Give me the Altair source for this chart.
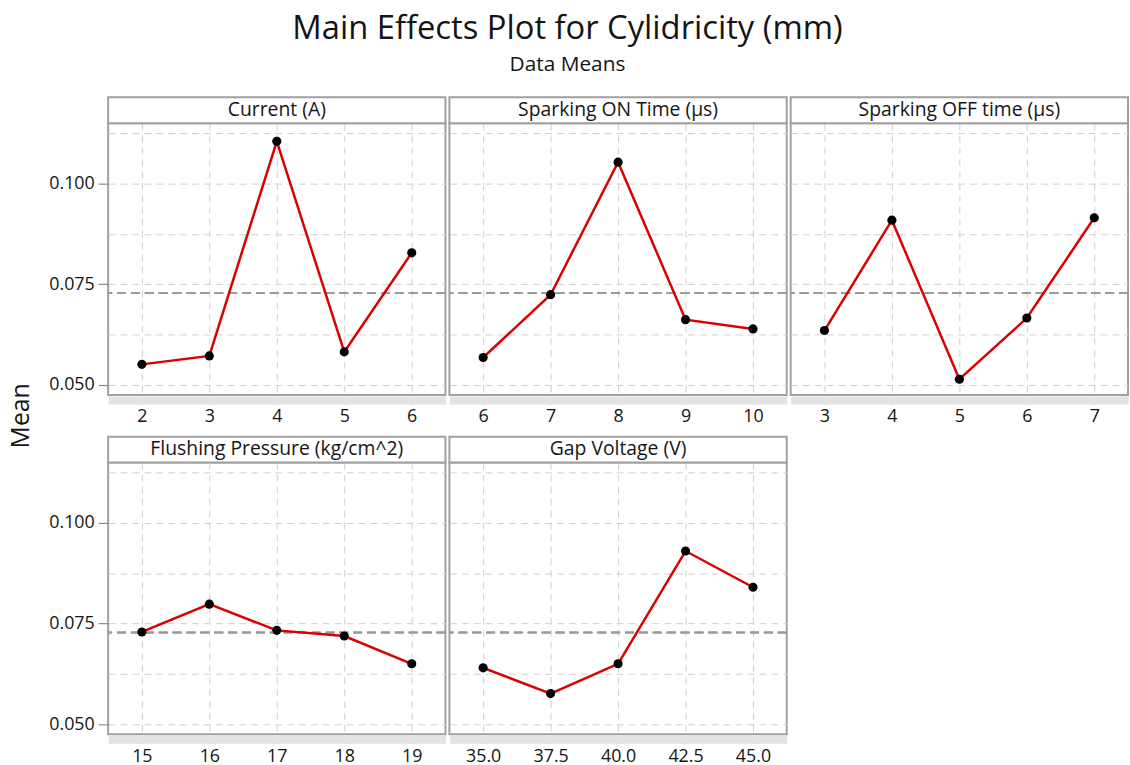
import altair as alt
import numpy as np
import pandas as pd

# Factor names and the mean response at each level
current_name = "Current (A)"
current_levels = ["2", "3", "4", "5", "6"]
current_means = [0.0551, 0.0572, 0.1105, 0.0582, 0.0828]

ton_name = "Sparking ON Time (µs)"
ton_levels = ["6", "7", "8", "9", "10"]
ton_means = [0.0568, 0.0724, 0.1053, 0.0662, 0.0639]

toff_name = "Sparking OFF time (µs)"
toff_levels = ["3", "4", "5", "6", "7"]
toff_means = [0.0635, 0.0909, 0.0514, 0.0666, 0.0915]

pressure_name = "Flushing Pressure (kg/cm^2)"
pressure_levels = ["15", "16", "17", "18", "19"]
pressure_means = [0.0729, 0.0798, 0.0733, 0.0719, 0.0650]

voltage_name = "Gap Voltage (V)"
voltage_levels = ["35.0", "37.5", "40.0", "42.5", "45.0"]
voltage_means = [0.0640, 0.0576, 0.0650, 0.0930, 0.0840]

y_tick_values = [0.050, 0.0625, 0.075, 0.0875, 0.100, 0.1125]
y_domain = [0.0475, 0.1150]

grand_mean = float(np.mean(current_means + ton_means + toff_means + pressure_means + voltage_means))

FONT = "Open Sans"
RED = "#d80000"
FRAME = "#a0a0a0"
TEXT = "#151515"
PW, PH, HH = 340, 274, 26

major = "abs(datum.value * 40 - round(datum.value * 40)) < 0.001"


def y_axis(show_labels):
    if show_labels:
        return alt.Axis(
            values=y_tick_values,
            labelExpr=f"{major} ? format(datum.value, '.3f') : ''",
            tickOpacity={"condition": {"test": major, "value": 1}, "value": 0},
            tickSize=10, tickColor="#8a8a8a", tickWidth=1.2,
            labelFontSize=18, labelFont=FONT, labelColor=TEXT, labelPadding=4,
            domain=False, grid=True, gridColor="#cfcfcf", gridDash=[7, 5], gridWidth=1,
            title=None,
        )
    return alt.Axis(
        values=y_tick_values, labels=False, ticks=False, domain=False,
        grid=True, gridColor="#cfcfcf", gridDash=[7, 5], gridWidth=1,
        minExtent=0, maxExtent=0, title=None,
    )


def panel(name, levels, means, show_y):
    df = pd.DataFrame({"level": levels, "mean": means, "grand": [grand_mean] * len(levels)})
    x = alt.X(
        "level:O", sort=levels, title=None,
        scale=alt.Scale(type="point", padding=0.5),
        axis=alt.Axis(
            labelAngle=0, labelFontSize=18, labelFont=FONT, labelColor=TEXT,
            labelPadding=4, tickSize=4, tickColor="#8a8a8a", tickWidth=1.2,
            domain=True, domainColor="#e3e3e3", domainWidth=8, offset=5,
            grid=True, gridColor="#cfcfcf", gridDash=[7, 5], gridWidth=1,
        ),
    )
    yscale = alt.Scale(domain=y_domain, nice=False, zero=False)
    ax = y_axis(show_y)
    base = alt.Chart(df)
    ref = base.mark_rule(color="#999999", strokeWidth=1.6, strokeDash=[9, 5]).encode(
        y=alt.Y("grand:Q", scale=yscale, axis=ax, title=None)
    )
    line = base.mark_line(color=RED, strokeWidth=2.5).encode(
        x=x, y=alt.Y("mean:Q", scale=yscale, axis=ax, title=None)
    )
    pts = base.mark_circle(color="black", size=85, opacity=1).encode(
        x=x, y=alt.Y("mean:Q", scale=yscale, axis=ax, title=None)
    )
    head_df = alt.Chart(pd.DataFrame({"factor": [name]}))
    head_box = head_df.mark_rect(fill="white", stroke=FRAME, strokeWidth=2).encode(
        x=alt.value(0), x2=alt.value(PW), y=alt.value(-HH), y2=alt.value(0)
    )
    head_text = head_df.mark_text(font=FONT, fontSize=19.5, color=TEXT, baseline="middle").encode(
        x=alt.value(PW / 2), y=alt.value(-HH / 2), text="factor:N"
    )
    return alt.layer(ref, line, pts, head_box, head_text).properties(width=PW, height=PH)


p1 = panel(current_name, current_levels, current_means, True)
p2 = panel(ton_name, ton_levels, ton_means, False)
p3 = panel(toff_name, toff_levels, toff_means, False)
p4 = panel(pressure_name, pressure_levels, pressure_means, True)
p5 = panel(voltage_name, voltage_levels, voltage_means, False)

row1 = alt.hconcat(p1, p2, p3, spacing=0)
row2 = alt.hconcat(p4, p5, spacing=0)
panels = alt.vconcat(row1, row2, spacing=8)

LABEL_H = 660
mean_label = (
    alt.Chart(pd.DataFrame({"t": ["Mean"]}))
    .mark_text(angle=270, font=FONT, fontSize=25, color=TEXT, baseline="middle", align="center")
    .encode(text="t:N", x=alt.value(15), y=alt.value(295))
    .properties(width=30, height=LABEL_H, view=alt.ViewBackground(stroke="transparent"))
)

chart = (
    alt.hconcat(mean_label, panels, spacing=11)
    .properties(
        title=alt.TitleParams(
            text="Main Effects Plot for Cylidricity (mm)",
            subtitle="Data Means",
            font=FONT, subtitleFont=FONT,
            fontSize=33, subtitleFontSize=21,
            fontWeight="normal", color=TEXT, subtitleColor=TEXT,
            anchor="middle", subtitlePadding=8, offset=21,
        ),
        padding={"left": 5, "top": 10, "right": 0, "bottom": 0},
    )
    .configure_view(stroke=FRAME, strokeWidth=2)
)

chart.save("out.html", embed_options={"renderer": "svg", "actions": False})
